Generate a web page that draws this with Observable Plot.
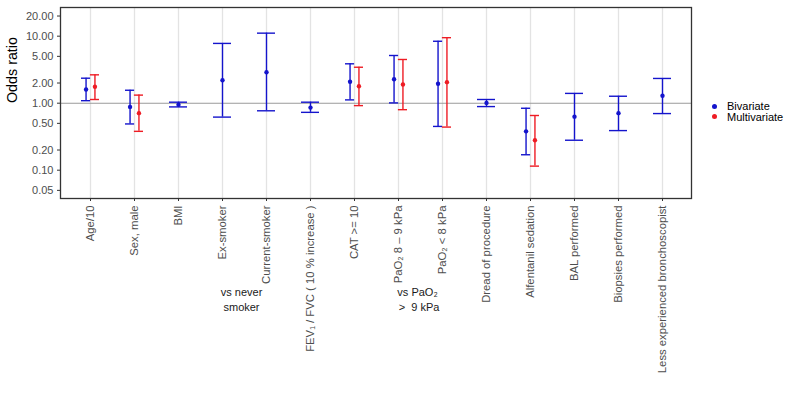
<!DOCTYPE html>
<html><head><meta charset="utf-8">
<script src="https://cdn.jsdelivr.net/npm/d3@7"></script>
<script src="https://cdn.jsdelivr.net/npm/@observablehq/plot@0.6"></script>
<style>
body{margin:0;background:#fff;font-family:"Liberation Sans",Arial,sans-serif;}
#wrap{position:relative;width:800px;height:400px;overflow:hidden;}
#legend{position:absolute;left:712px;top:101px;font-size:11px;line-height:10.6px;color:#000;}
#legend .row{display:flex;align-items:center;height:10.6px;white-space:nowrap;}
#legend .dot{display:inline-block;width:5px;height:5px;border-radius:50%;margin-right:10px;}
</style></head><body>
<div id="wrap"><div id="chart"></div><div id="legend"></div></div>
<script>
const categories = ["Age/10","Sex, male","BMI","Ex-smoker","Current-smoker","FEV₁ / FVC ( 10 % increase )","CAT >= 10","PaO₂ 8 – 9 kPa","PaO₂ < 8 kPa","Dread of procedure","Alfentanil sedation","BAL performed","Biopsies performed","Less experienced bronchoscopist"];
const biEst = [1.60, 0.88, 0.95, 2.20, 2.90, 0.86, 2.09, 2.28, 1.95, 1.01, 0.38, 0.63, 0.71, 1.29];
const biLo  = [1.09, 0.49, 0.88, 0.62, 0.77, 0.73, 1.12, 1.01, 0.45, 0.89, 0.17, 0.28, 0.39, 0.70];
const biHi  = [2.36, 1.56, 1.035, 7.8, 11.1, 1.035, 3.87, 5.15, 8.4, 1.135, 0.84, 1.40, 1.27, 2.34];
const multiCats = ["Age/10","Sex, male","CAT >= 10","PaO₂ 8 – 9 kPa","PaO₂ < 8 kPa","Alfentanil sedation"];
const multiEst = [1.76, 0.71, 1.79, 1.90, 2.06, 0.28];
const multiLo  = [1.135, 0.38, 0.92, 0.80, 0.44, 0.115];
const multiHi  = [2.65, 1.32, 3.44, 4.49, 9.5, 0.655];
const yTicks = [0.05, 0.10, 0.20, 0.50, 1.00, 2.00, 5.00, 10.00, 20.00];
const yTickLabels = ["0.05", "0.10", "0.20", "0.50", "1.00", "2.00", "5.00", "10.00", "20.00"];
const seriesNames = ["Bivariate", "Multivariate"];
const seriesColors = ["#1414cc", "#ee1c24"];
const notes = [
  {cat: "Ex-smoker", text: "vs never\nsmoker"},
  {cat: "PaO₂ 8 – 9 kPa", text: "vs PaO₂\n >  9 kPa"}
];

const bi = categories.map((c, i) => ({cat: c, est: biEst[i], lo: biLo[i], hi: biHi[i], paired: multiCats.includes(c)}));
const multi = multiCats.map((c, i) => ({cat: c, est: multiEst[i], lo: multiLo[i], hi: multiHi[i]}));
const biPaired = bi.filter(d => d.paired);
const biAlone = bi.filter(d => !d.paired);
const yLab = yTicks.map((v, i) => ({v, label: yTickLabels[i]}));

const W = 700, H = 400, mL = 60, mR = 9;
const step = (W - mL - mR) / 14.2;
const off = step * 0.1;
const capW = step * 0.4;

function errbar(data, color, dx, insetL, insetR) {
  return [
    Plot.ruleX(data, {x: "cat", y1: "lo", y2: "hi", stroke: color, strokeWidth: 1.4, dx}),
    Plot.tickY(data, {x: "cat", y: "lo", stroke: color, strokeWidth: 1.4, insetLeft: insetL, insetRight: insetR}),
    Plot.tickY(data, {x: "cat", y: "hi", stroke: color, strokeWidth: 1.4, insetLeft: insetL, insetRight: insetR}),
    Plot.dot(data, {x: "cat", y: "est", fill: color, r: 2.2, dx})
  ];
}

const chart = Plot.plot({
  width: W, height: H,
  marginLeft: mL, marginRight: mR, marginTop: 7, marginBottom: 202,
  style: {fontFamily: "Liberation Sans, Arial, sans-serif", fontSize: "11px", background: "#fff"},
  x: {type: "band", domain: categories, paddingInner: 0.6, paddingOuter: 0.4},
  y: {type: "log", domain: [0.0378, 26.8]},
  marks: [
    Plot.gridX(categories, {x: d => d, stroke: "#e3e3e3", strokeOpacity: 1, strokeWidth: 1.3}),
    Plot.ruleY([1], {stroke: "#9a9a9a", strokeWidth: 1.1}),
    ...errbar(biAlone, seriesColors[0], 0, 0, 0),
    ...errbar(biPaired, seriesColors[0], -off, 0, capW / 2),
    ...errbar(multi, seriesColors[1], off, capW / 2, 0),
    Plot.frame({stroke: "#333", strokeWidth: 1.3}),
    Plot.axisY({ticks: yTicks, tickFormat: () => "", tickSize: 3, tickPadding: 5, label: null, stroke: "#333"}),
    Plot.text(yLab, {y: "v", text: "label", frameAnchor: "left", dx: -7, textAnchor: "end", fill: "#4d4d4d", fontSize: 11}),
    Plot.axisX({tickRotate: -90, tickSize: 3, tickPadding: 4, label: null, fill: "#4d4d4d", stroke: "#333", fontSize: 11.3}),
    Plot.text(["Odds ratio"], {frameAnchor: "left", dx: -48, rotate: -90, fontSize: 14.3, fill: "#000", text: d => d}),
    Plot.text(notes, {x: "cat", text: "text", frameAnchor: "bottom", dy: 112.5, dx: 19, fontSize: 11, fill: "#1a1a1a", lineHeight: 1.35})
  ]
});
document.getElementById("chart").appendChild(chart);

const legend = document.getElementById("legend");
seriesNames.forEach((name, i) => {
  const row = document.createElement("div");
  row.className = "row";
  const dot = document.createElement("span");
  dot.className = "dot";
  dot.style.background = seriesColors[i];
  row.appendChild(dot);
  row.appendChild(document.createTextNode(name));
  legend.appendChild(row);
});
</script>
</body></html>
